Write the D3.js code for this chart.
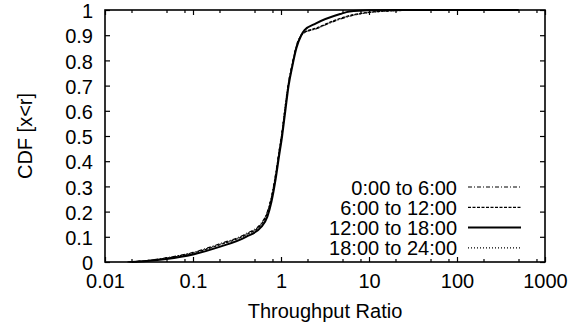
<!DOCTYPE html>
<html lang="en">
<head>
<meta charset="utf-8" />
<title>Throughput Ratio CDF</title>
<script src="https://d3js.org/d3.v7.min.js"></script>
<style>
  body { margin: 0; background: #fff; }
  text { font-family: "Liberation Sans", Arial, sans-serif; font-size: 20px; fill: #000; }
</style>
</head>
<body>
<script>
// data: [throughput ratio, CDF]
var night = [[0.018,0],[0.03,0.006],[0.05,0.017],[0.1,0.038],[0.2,0.072],[0.4,0.112],[0.6,0.155],[0.7,0.2],[0.78,0.26],[0.87,0.35],[0.95,0.44],[1.03,0.52],[1.1,0.6],[1.2,0.7],[1.33,0.78],[1.5,0.86],[1.7,0.9],[1.85,0.91],[2.5,0.925],[4,0.955],[6,0.975],[10,0.99],[20,0.997],[50,1],[500,1]];
var morning = [[0.019,0],[0.03,0.005],[0.05,0.015],[0.1,0.035],[0.2,0.068],[0.4,0.108],[0.6,0.15],[0.7,0.195],[0.78,0.255],[0.87,0.345],[0.95,0.435],[1.03,0.515],[1.11,0.6],[1.21,0.7],[1.34,0.78],[1.5,0.855],[1.7,0.9],[1.85,0.912],[2.5,0.928],[4,0.958],[6,0.978],[10,0.991],[20,0.998],[50,1],[500,1]];
var afternoon = [[0.02,0],[0.03,0.004],[0.05,0.012],[0.1,0.03],[0.2,0.06],[0.4,0.1],[0.6,0.14],[0.7,0.18],[0.78,0.24],[0.87,0.33],[0.95,0.42],[1.03,0.5],[1.12,0.6],[1.22,0.7],[1.35,0.78],[1.5,0.85],[1.7,0.9],[1.85,0.92],[2.5,0.947],[4.7,0.984],[6,0.994],[10,0.999],[20,1],[500,1]];
var evening = [[0.019,0],[0.03,0.005],[0.05,0.016],[0.1,0.037],[0.2,0.07],[0.4,0.11],[0.6,0.152],[0.7,0.198],[0.78,0.258],[0.87,0.348],[0.95,0.438],[1.03,0.518],[1.1,0.6],[1.2,0.7],[1.33,0.78],[1.5,0.858],[1.7,0.9],[1.85,0.91],[2.5,0.926],[4,0.956],[6,0.976],[10,0.99],[20,0.997],[50,1],[500,1]];

var seriesNames = ["0:00 to 6:00", "6:00 to 12:00", "12:00 to 18:00", "18:00 to 24:00"];
var seriesData = [night, morning, afternoon, evening];
var seriesDash = ["4,2,1,2", "3,1.5", null, "1,2"];
var seriesWidth = [1.2, 1.2, 2, 1.2];

var xTicks = [0.01, 0.1, 1, 10, 100, 1000];
var xTickLabels = ["0.01", "0.1", "1", "10", "100", "1000"];
var xMinor = [];
[0.01, 0.1, 1, 10, 100].forEach(function(d){ [2,5,8].forEach(function(m){ xMinor.push(d*m); }); });
var yTicks = [0, 0.1, 0.2, 0.3, 0.4, 0.5, 0.6, 0.7, 0.8, 0.9, 1];
var yTickLabels = ["0", "0.1", "0.2", "0.3", "0.4", "0.5", "0.6", "0.7", "0.8", "0.9", "1"];

var w = 583, h = 329;
var pLeft = 105, pRight = 545, pTop = 10, pBottom = 262;

var svg = d3.select("body").append("svg")
  .attr("width", w).attr("height", h);

var x = d3.scaleLog().domain([0.01, 1000]).range([pLeft, pRight]);
var y = d3.scaleLinear().domain([0, 1]).range([pBottom, pTop]);

function styleAxis(g){
  g.select(".domain").remove();
  g.attr("font-size", null).attr("font-family", null);
  g.selectAll("line").attr("stroke", "#000").attr("stroke-width", 1.2);
  g.selectAll("text").attr("fill", "#000");
}

// bottom axis
svg.append("g").attr("transform", "translate(0," + pBottom + ")")
  .call(d3.axisBottom(x).tickValues(xTicks).tickSize(-5).tickPadding(12)
    .tickFormat(function(d, i){ return xTickLabels[i]; }))
  .call(styleAxis);
svg.append("g").attr("transform", "translate(0," + pBottom + ")")
  .call(d3.axisBottom(x).tickValues(xMinor).tickSize(-3).tickFormat(""))
  .call(styleAxis);
// top axis
svg.append("g").attr("transform", "translate(0," + pTop + ")")
  .call(d3.axisTop(x).tickValues(xTicks).tickSize(-5).tickFormat(""))
  .call(styleAxis);
svg.append("g").attr("transform", "translate(0," + pTop + ")")
  .call(d3.axisTop(x).tickValues(xMinor).tickSize(-3).tickFormat(""))
  .call(styleAxis);
// left axis
svg.append("g").attr("transform", "translate(" + pLeft + ",0)")
  .call(d3.axisLeft(y).tickValues(yTicks).tickSize(-5).tickPadding(12)
    .tickFormat(function(d, i){ return yTickLabels[i]; }))
  .call(styleAxis)
  .selectAll("text").attr("dy", "0.38em");
// right axis
svg.append("g").attr("transform", "translate(" + pRight + ",0)")
  .call(d3.axisRight(y).tickValues(yTicks).tickSize(-5).tickFormat(""))
  .call(styleAxis);

// frame
svg.append("rect")
  .attr("x", pLeft).attr("y", pTop)
  .attr("width", pRight - pLeft).attr("height", pBottom - pTop)
  .attr("fill", "none").attr("stroke", "#000").attr("stroke-width", 1.6);

var line = d3.line()
  .x(function(d){ return x(d[0]); })
  .y(function(d){ return y(d[1]); })
  .curve(d3.curveMonotoneX);

seriesData.forEach(function(s, i){
  svg.append("path")
    .datum(s)
    .attr("d", line)
    .attr("fill", "none")
    .attr("stroke", "#000")
    .attr("stroke-width", seriesWidth[i])
    .attr("stroke-dasharray", seriesDash[i]);
});

// legend
var legend = svg.append("g");
seriesNames.forEach(function(name, i){
  var ly = 187 + i * 20.3;
  legend.append("text")
    .attr("x", 457).attr("y", ly + 7.5)
    .attr("text-anchor", "end")
    .text(name);
  legend.append("line")
    .attr("x1", 468).attr("x2", 521)
    .attr("y1", ly).attr("y2", ly)
    .attr("stroke", "#000")
    .attr("stroke-width", seriesWidth[i])
    .attr("stroke-dasharray", seriesDash[i]);
});

// axis titles
svg.append("text")
  .attr("x", (pLeft + pRight) / 2).attr("y", 318)
  .attr("text-anchor", "middle")
  .text("Throughput Ratio");
svg.append("text")
  .attr("transform", "translate(32," + ((pTop + pBottom) / 2) + ") rotate(-90)")
  .attr("text-anchor", "middle")
  .text("CDF [x<r]");
</script>
</body>
</html>
